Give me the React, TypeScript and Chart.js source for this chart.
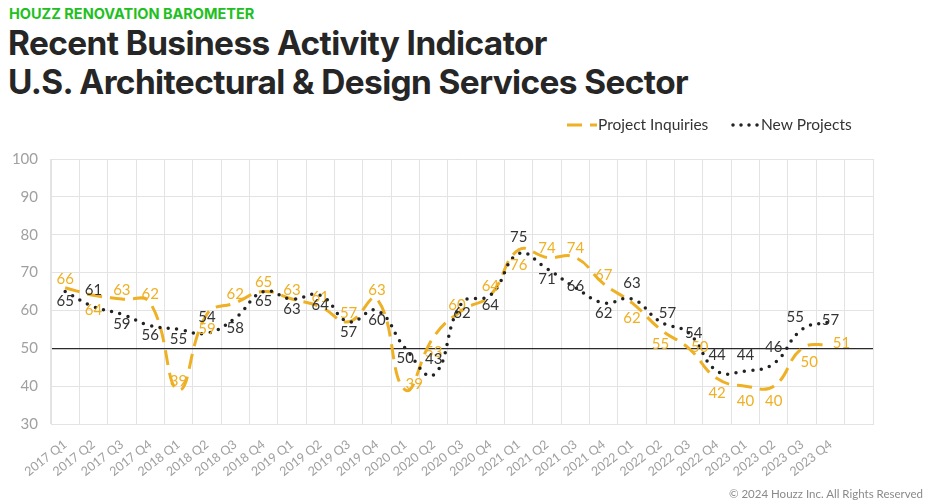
import React, { useEffect, useRef } from 'react';
import { Chart, registerables } from 'chart.js';

Chart.register(...registerables);

const categories = [
  '2017 Q1', '2017 Q2', '2017 Q3', '2017 Q4',
  '2018 Q1', '2018 Q2', '2018 Q3', '2018 Q4',
  '2019 Q1', '2019 Q2', '2019 Q3', '2019 Q4',
  '2020 Q1', '2020 Q2', '2020 Q3', '2020 Q4',
  '2021 Q1', '2021 Q2', '2021 Q3', '2021 Q4',
  '2022 Q1', '2022 Q2', '2022 Q3', '2022 Q4',
  '2023 Q1', '2023 Q2', '2023 Q3', '2023 Q4',
  '',
];

const projectInquiries = [66, 64, 63, 62, 39, 59, 62, 65, 63, 61, 57, 63, 39, 53, 60, 64, 76, 74, 74, 67, 62, 55, 50, 42, 40, 40, 50, 51];
const newProjects = [65, 61, 59, 56, 55, 54, 58, 65, 63, 64, 57, 60, 50, 43, 62, 64, 75, 71, 66, 62, 63, 57, 54, 44, 44, 46, 55, 57];

const yMin = 30;
const yMax = 100;
const yStep = 10;
const referenceValue = 50;

// label placement codes (style only)
const inquiryLabelPos = ['T', 'B', 'T', 'T', 'T', 'B', 'T', 'T', 'T', 'T', 'T', 'T', 'TR', 'B', 'TL', 'T', 'B', 'T', 'T', 'T', 'B', 'B', 'R', 'B', 'B', 'B', 'BR', 'R'];
const newProjectLabelPos = ['B', 'T', 'B', 'B', 'B', 'T', 'B', 'B', 'B', 'B', 'B', 'B', 'B', 'T', 'B', 'B', 'T', 'B', 'C', 'B', 'T', 'TR', 'CR', 'T', 'T', 'T', 'TL', 'C'];

const ORANGE = '#EEB024';
const BLACK = '#222222';
const LABEL_BLACK = '#333333';
const GRID = '#e3e3e3';
const TICK = '#a0a0a0';
const FONT = 'Lato, "Open Sans", sans-serif';

const inquiryOffsets: Record<string, [number, number]> = {
  T: [0, -9], B: [0, 15], R: [11, -1], TR: [9, -6], TL: [-5, -5], BR: [7, 14],
};
const projectOffsets: Record<string, [number, number]> = {
  T: [0, -16], B: [0, 10], C: [0, -2], CR: [5, 0], TR: [7, -9], TL: [-7, -12],
};

const labelPlugin = {
  id: 'pointLabels',
  afterDatasetsDraw(chart: any) {
    const ctx = chart.ctx;
    ctx.save();
    ctx.font = `15px ${FONT}`;
    ctx.textAlign = 'center';
    ctx.textBaseline = 'middle';
    const specs = [
      { idx: 0, pos: inquiryLabelPos, off: inquiryOffsets, color: ORANGE },
      { idx: 1, pos: newProjectLabelPos, off: projectOffsets, color: LABEL_BLACK },
    ];
    specs.forEach((s) => {
      const meta = chart.getDatasetMeta(s.idx);
      const data = chart.data.datasets[s.idx].data;
      ctx.fillStyle = s.color;
      meta.data.forEach((el: any, i: number) => {
        const v = data[i];
        if (v == null) return;
        const o = s.off[s.pos[i]] || [0, 0];
        ctx.fillText(String(v), el.x + o[0], el.y + o[1]);
      });
    });
    ctx.restore();
  },
};

const legendPlugin = {
  id: 'customLegend',
  afterDraw(chart: any) {
    const ctx = chart.ctx;
    const y = 15;
    ctx.save();
    ctx.strokeStyle = ORANGE;
    ctx.lineWidth = 3;
    ctx.lineCap = 'butt';
    ctx.setLineDash([15, 8]);
    ctx.beginPath();
    ctx.moveTo(567, y);
    ctx.lineTo(597, y);
    ctx.stroke();
    ctx.strokeStyle = BLACK;
    ctx.lineWidth = 3.5;
    ctx.lineCap = 'round';
    ctx.setLineDash([0, 8]);
    ctx.beginPath();
    ctx.moveTo(733, y);
    ctx.lineTo(758, y);
    ctx.stroke();
    ctx.setLineDash([]);
    ctx.fillStyle = '#333333';
    ctx.font = `15.5px ${FONT}`;
    ctx.textAlign = 'left';
    ctx.textBaseline = 'middle';
    ctx.fillText('Project Inquiries', 598, y);
    ctx.fillText('New Projects', 761, y);
    ctx.restore();
  },
};

function ActivityChart() {
  const canvasRef = useRef<HTMLCanvasElement | null>(null);

  useEffect(() => {
    if (!canvasRef.current) return;
    const chart = new Chart(canvasRef.current, {
      type: 'line',
      data: {
        labels: categories,
        datasets: [
          {
            label: 'Project Inquiries',
            data: projectInquiries,
            borderColor: ORANGE,
            backgroundColor: ORANGE,
            borderWidth: 3,
            borderDash: [15, 8],
            borderCapStyle: 'butt',
            pointRadius: 0,
            tension: 0.45,
            fill: false,
            order: 2,
          },
          {
            label: 'New Projects',
            data: newProjects,
            borderColor: BLACK,
            backgroundColor: BLACK,
            borderWidth: 3.5,
            borderDash: [0, 8.5],
            borderCapStyle: 'round',
            pointRadius: 0,
            tension: 0.45,
            fill: false,
            order: 1,
          },
        ],
      },
      options: {
        responsive: false,
        animation: false,
        events: [],
        layout: { padding: { top: 49, right: 52, left: 0, bottom: 0 } },
        plugins: {
          legend: { display: false },
          tooltip: { enabled: false },
          title: { display: false },
        },
        scales: {
          x: {
            type: 'category',
            offset: true,
            grid: { offset: true, color: GRID, lineWidth: 1, drawTicks: false },
            border: { color: GRID },
            ticks: {
              autoSkip: false,
              maxRotation: 38,
              minRotation: 38,
              padding: 13,
              color: TICK,
              font: { family: FONT, size: 12.5 },
            },
            afterFit: (s: any) => { s.height = 66; },
          },
          y: {
            min: yMin,
            max: yMax,
            ticks: {
              stepSize: yStep,
              padding: 13,
              color: TICK,
              font: { family: FONT, size: 15 },
            },
            grid: {
              drawTicks: false,
              color: (c: any) => (c.tick && c.tick.value === referenceValue ? '#2a2a2a' : GRID),
              lineWidth: (c: any) => (c.tick && c.tick.value === referenceValue ? 1.3 : 1),
            },
            border: { color: GRID },
            afterFit: (s: any) => { s.width = 51; },
          },
        },
      },
      plugins: [labelPlugin, legendPlugin],
    } as any);
    return () => chart.destroy();
  }, []);

  return (
    <canvas
      ref={canvasRef}
      width={925}
      height={380}
      style={{ position: 'absolute', left: 0, top: 110, width: 925, height: 380 }}
    />
  );
}

export default function App() {
  useEffect(() => {
    document.body.style.margin = '0';
  }, []);
  return (
    <div style={{ position: 'relative', width: 925, height: 504, background: '#fff', overflow: 'hidden' }}>
      <div
        style={{
          position: 'absolute', left: 9, top: 5, color: '#22BF22',
          font: '700 14.5px Inter, sans-serif', letterSpacing: '0px', whiteSpace: 'nowrap',
        }}
      >
        HOUZZ RENOVATION BAROMETER
      </div>
      <div
        style={{
          position: 'absolute', left: 8, top: 24, color: '#262626',
          font: '700 33.4px/39px Inter, sans-serif', letterSpacing: '-0.6px', whiteSpace: 'nowrap',
        }}
      >
        <div>Recent Business Activity Indicator</div>
        <div>U.S. Architectural &amp; Design Services Sector</div>
      </div>
      <ActivityChart />
      <div
        style={{
          position: 'absolute', right: 2, top: 487, color: '#8a8a8a',
          font: '11.5px Lato, sans-serif', whiteSpace: 'nowrap',
        }}
      >
        © 2024 Houzz Inc. All Rights Reserved
      </div>
    </div>
  );
}
